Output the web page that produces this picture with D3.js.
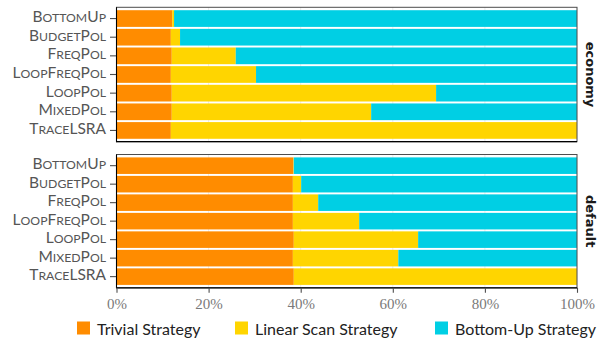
<!DOCTYPE html>
<html><head><meta charset="utf-8">
<script src="https://cdn.jsdelivr.net/npm/d3@7"></script>
<style>
html,body{margin:0;padding:0;background:#fff;}
svg{display:block;}
</style></head>
<body>
<svg id="chart" width="600" height="341"></svg>
<script>
const categories = ["BottomUp","BudgetPol","FreqPol","LoopFreqPol","LoopPol","MixedPol","TraceLSRA"];
const panels = ["economy","default"];
const strategies = ["Trivial Strategy","Linear Scan Strategy","Bottom-Up Strategy"];
const colors = ["#FF8C00","#FFD500","#00CFE4"];
const xTicks = [0,0.2,0.4,0.6,0.8,1.0];

// percentages per category (order as categories)
const economyTrivial = [12.1,11.8,12.0,11.8,12.0,12.0,11.8];
const economyLinear  = [0.4,2.0,13.9,18.5,57.4,43.3,88.2];
const economyBottomUp= [87.5,86.2,74.1,69.7,30.6,44.7,0.0];
const defaultTrivial = [38.4,38.3,38.3,38.3,38.5,38.3,38.5];
const defaultLinear  = [0.1,1.8,5.5,14.4,27.0,22.9,61.5];
const defaultBottomUp= [61.5,59.9,56.2,47.3,34.5,38.8,0.0];

const panelData = {
  economy: [economyTrivial, economyLinear, economyBottomUp],
  default: [defaultTrivial, defaultLinear, defaultBottomUp]
};

const svg = d3.select("#chart");
const x = d3.scaleLinear().domain([0,1]).range([116.5,577]);
const panelY = {economy:[7.3,141.7], default:[154.5,287.8]};

function smallCaps(sel, size){
  sel.each(function(){
    const t = d3.select(this);
    const s = t.text();
    t.text(null);
    const runs = s.match(/[A-Z]+|[^A-Z]+/g);
    runs.forEach(r=>{
      const up = /[A-Z]/.test(r[0]);
      t.append("tspan").attr("font-size", up?size:size*0.79).text(r.toUpperCase());
    });
  });
}

panels.forEach(p => {
  const [y0,y1] = panelY[p];
  const g = svg.append("g");
  const y = d3.scaleBand().domain(categories).range([y0+1.6,y1-1.6]).paddingInner(0.105).paddingOuter(0.07);
  // grid
  g.selectAll("line.grid").data(xTicks).join("line")
    .attr("x1",d=>x(d)).attr("x2",d=>x(d)).attr("y1",y0).attr("y2",y1)
    .attr("stroke","#e6e6e6").attr("stroke-width",0.8);
  // stacked
  const rows = categories.map((c,i)=>{
    const vals = panelData[p].map(a=>a[i]/100);
    const o = {cat:c};
    strategies.forEach((s,k)=>o[s]=vals[k]);
    return o;
  });
  const stack = d3.stack().keys(strategies)(rows);
  stack.forEach((layer,k)=>{
    g.selectAll(null).data(layer).join("rect")
      .attr("x",d=>x(d[0])).attr("width",d=>Math.max(0,x(d[1])-x(d[0])))
      .attr("y",d=>y(d.data.cat)).attr("height",y.bandwidth())
      .attr("fill",colors[k]);
  });
  // border
  g.append("rect").attr("x",x(0)).attr("y",y0).attr("width",x(1)-x(0)).attr("height",y1-y0)
    .attr("fill","none").attr("stroke","#4d4d4d").attr("stroke-width",1);
  // axis lines
  g.append("line").attr("x1",x(0)).attr("x2",x(0)).attr("y1",y0).attr("y2",y1+0.5).attr("stroke","#000").attr("stroke-width",1.1);
  g.append("line").attr("x1",x(0)).attr("x2",x(1)).attr("y1",y1).attr("y2",y1).attr("stroke","#000").attr("stroke-width",1.3);
  // y axis
  const yAxis = d3.axisLeft(y).tickSize(6).tickPadding(4);
  const ya = g.append("g").attr("transform",`translate(${x(0)-0.5},0)`).call(yAxis);
  ya.select(".domain").remove();
  ya.selectAll(".tick line").attr("stroke","#4d4d4d").attr("stroke-width",1.1);
  const yt = ya.selectAll(".tick text").attr("fill","#555").attr("font-family","Lato").attr("dy","0.36em");
  smallCaps(yt, 15.5);
  // strip
  const cy=(y0+y1)/2;
  g.append("text").attr("transform",`translate(585.5,${cy}) rotate(90)`)
    .attr("text-anchor","middle").attr("font-family","DejaVu Sans").attr("font-weight","bold")
    .attr("font-size",13).attr("fill","#1a1a1a").text(p);
  if(p==="default"){
    const xa = g.append("g").attr("transform",`translate(0,${y1})`)
      .call(d3.axisBottom(x).tickValues(xTicks).tickFormat(d3.format(".0%")).tickSize(5).tickPadding(6));
    xa.select(".domain").remove();
    xa.selectAll(".tick line").attr("stroke","#4d4d4d").attr("stroke-width",1.1);
    xa.selectAll(".tick text").attr("fill","#7a7a7a").attr("font-family","Liberation Serif").attr("font-size",15);
  }
});

// legend
const legendX = [77,235,435];
const lg = svg.append("g");
strategies.forEach((s,k)=>{
  lg.append("rect").attr("x",legendX[k]).attr("y",321.5).attr("width",13).attr("height",13).attr("fill",colors[k]);
  lg.append("text").attr("x",legendX[k]+20).attr("y",334.5).attr("font-family","Lato")
    .attr("font-size",16).attr("fill","#222").text(s);
});
</script>
</body></html>
